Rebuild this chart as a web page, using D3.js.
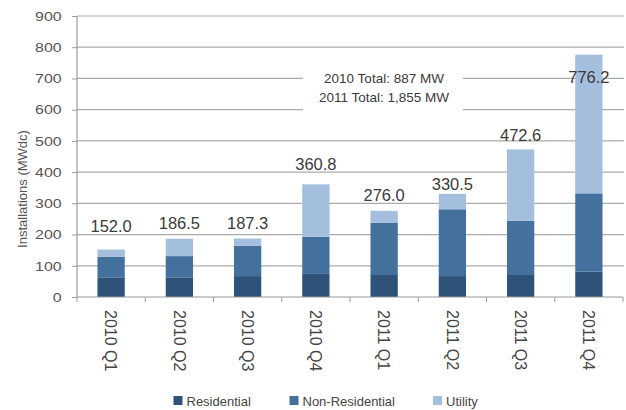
<!DOCTYPE html>
<html>
<head>
<meta charset="utf-8">
<script src="https://cdn.jsdelivr.net/npm/d3@7"></script>
<style>
  html, body { margin: 0; padding: 0; background: #fff; }
  svg { display: block; font-family: "Liberation Sans", Arial, sans-serif; }
</style>
</head>
<body>
<svg id="chart" width="626" height="410"></svg>
<script>
// Quarterly PV installations (MWdc) by market segment
const categories = ["2010 Q1", "2010 Q2", "2010 Q3", "2010 Q4", "2011 Q1", "2011 Q2", "2011 Q3", "2011 Q4"];
const residential    = [63, 63, 67, 74, 70.5, 67, 70.5, 81];
const nonResidential = [66, 68, 97, 119, 167.5, 214, 173.5, 251];
const utility        = [23, 55.5, 23.3, 167.8, 38, 49.5, 228.6, 444.2];
const seriesNames = ["Residential", "Non-Residential", "Utility"];
const yTicks = [0, 100, 200, 300, 400, 500, 600, 700, 800, 900];
const annualTotals = ["2010 Total: 887 MW", "2011 Total: 1,855 MW"];

const colors = { "Residential": "#2f5378", "Non-Residential": "#44709e", "Utility": "#a3bfdd" };
// vertical nudge of each total label relative to its bar top (px)
const labelNudge = [-18, -9.5, -9.2, -14.4, -9.8, -3.8, -8.8, 28.6];

const rows = categories.map((c, i) => ({
  cat: c,
  "Residential": residential[i],
  "Non-Residential": nonResidential[i],
  "Utility": utility[i]
}));

const svg = d3.select("#chart");
const x = d3.scaleBand().domain(categories).range([77, 623]).padding(0);
const y = d3.scaleLinear().domain([0, 900]).range([297, 16]);

// gridlines
svg.append("g").selectAll("line").data(yTicks.filter(d => d > 0)).join("line")
  .attr("x1", 77).attr("x2", 624)
  .attr("y1", d => y(d)).attr("y2", d => y(d))
  .attr("stroke", "#ababab").attr("stroke-width", 1.2);

// stacked bars
const stack = d3.stack().keys(seriesNames)(rows);
const barW = x.bandwidth() * 0.4;
svg.append("g").selectAll("g").data(stack).join("g")
  .attr("fill", s => colors[s.key])
  .selectAll("rect").data(s => s).join("rect")
  .attr("x", d => x(d.data.cat) + (x.bandwidth() - barW) / 2)
  .attr("width", barW)
  .attr("y", d => y(d[1]))
  .attr("height", d => y(d[0]) - y(d[1]));

// annual totals note (white box hides gridlines behind it)
const note = svg.append("g");
note.append("rect").attr("x", 303).attr("y", 66).attr("width", 160).attr("height", 48).attr("fill", "#fff");
note.selectAll("text").data(annualTotals).join("text")
  .attr("x", 384).attr("y", (d, i) => 83 + i * 18.5)
  .attr("text-anchor", "middle")
  .attr("font-size", 13.5).attr("fill", "#3a3a3a")
  .text(d => d);

// total labels
svg.append("g").selectAll("text").data(rows).join("text")
  .attr("x", d => x(d.cat) + x.bandwidth() / 2)
  .attr("y", (d, i) => y(residential[i] + nonResidential[i] + utility[i]) + labelNudge[i])
  .attr("text-anchor", "middle")
  .attr("font-size", 16.5).attr("fill", "#3a3a3a")
  .text((d, i) => (residential[i] + nonResidential[i] + utility[i]).toFixed(1));

// y axis
const yAxis = svg.append("g").attr("transform", "translate(77,0)")
  .call(d3.axisLeft(y).tickValues(yTicks).tickSize(5).tickPadding(8));
yAxis.select(".domain").attr("stroke", "#9a9a9a").attr("stroke-width", 1.2).attr("d", "M0,16V297");
yAxis.selectAll(".tick line").attr("stroke", "#9a9a9a");
yAxis.selectAll(".tick text")
  .attr("font-family", "Liberation Sans, Arial, sans-serif")
  .attr("font-size", 13.5).attr("fill", "#555")
  .attr("transform", "scale(1.18,1)");

// x axis
const xAxis = svg.append("g").attr("transform", "translate(0,297)");
xAxis.append("line").attr("x1", 77).attr("x2", 623).attr("stroke", "#9a9a9a").attr("stroke-width", 1.2);
xAxis.selectAll("line.tk").data(d3.range(categories.length + 1)).join("line").attr("class", "tk")
  .attr("x1", i => 77 + i * x.step()).attr("x2", i => 77 + i * x.step())
  .attr("y1", 0).attr("y2", 5).attr("stroke", "#9a9a9a");
xAxis.selectAll("text").data(categories).join("text")
  .attr("transform", d => `translate(${x(d) + x.bandwidth() / 2},13) rotate(90)`)
  .attr("dy", "0.36em")
  .attr("font-size", 16).attr("fill", "#444")
  .text(d => d);

// y axis title
svg.append("text")
  .attr("transform", "translate(27,189) rotate(-90)")
  .attr("text-anchor", "middle")
  .attr("font-size", 13).attr("fill", "#555")
  .text("Installations (MWdc)");

// legend
const legendX = [173.5, 289.5, 433];
const legend = svg.append("g").selectAll("g").data(seriesNames).join("g")
  .attr("transform", (d, i) => `translate(${legendX[i]},396)`);
legend.append("rect").attr("width", 9).attr("height", 9).attr("fill", d => colors[d]);
legend.append("text").attr("x", 13).attr("y", 9.5)
  .attr("font-size", 13).attr("fill", "#444").text(d => d);
</script>
</body>
</html>
